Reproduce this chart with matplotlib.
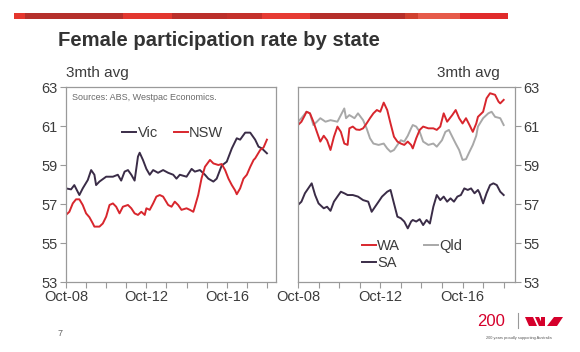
import matplotlib
matplotlib.use("Agg")
import matplotlib.pyplot as plt
import matplotlib.dates as mdates
from matplotlib.patches import Rectangle, Polygon
from matplotlib.lines import Line2D
import pandas as pd

plt.rcParams['font.family'] = ['Liberation Sans', 'DejaVu Sans']

# ---- data (3mth avg, %) ----
vic_dates = ["2008-10", "2009-01", "2009-03", "2009-06", "2009-08", "2009-11", "2010-01", "2010-03",
             "2010-04", "2010-06", "2010-10", "2011-02", "2011-05", "2011-07", "2011-09", "2011-11",
             "2012-01", "2012-03", "2012-05", "2012-06", "2012-08", "2012-10", "2012-12", "2013-02",
             "2013-05", "2013-08", "2013-11", "2014-02", "2014-04", "2014-06", "2014-10", "2015-01",
             "2015-03", "2015-06", "2015-09", "2015-11", "2016-02", "2016-04", "2016-07", "2016-10",
             "2017-01", "2017-04", "2017-06", "2017-09", "2017-12", "2018-03", "2018-05", "2018-07",
             "2018-10"]
vic = [57.8, 57.75, 57.97, 57.46, 57.8, 58.23, 58.74, 58.5,
       57.97, 58.15, 58.4, 58.4, 58.5, 58.2, 58.66, 58.74,
       58.5, 58.2, 59.43, 59.63, 59.25, 58.8, 58.5, 58.74,
       58.6, 58.74, 58.6, 58.5, 58.3, 58.5, 58.4, 58.8,
       58.66, 58.74, 58.5, 58.3, 58.15, 58.3, 58.97, 59.17,
       59.85, 60.37, 60.3, 60.66, 60.66, 60.3, 59.94, 59.85,
       59.6]

nsw_dates = ["2008-10", "2008-12", "2009-02", "2009-04", "2009-06", "2009-08", "2009-10", "2009-12",
             "2010-02", "2010-03", "2010-06", "2010-08", "2010-10", "2010-12", "2011-02", "2011-04",
             "2011-06", "2011-08", "2011-11", "2012-01", "2012-03", "2012-05", "2012-07", "2012-09",
             "2012-10", "2012-12", "2013-02", "2013-04", "2013-06", "2013-08", "2013-11", "2014-01",
             "2014-03", "2014-05", "2014-07", "2014-10", "2014-12", "2015-02", "2015-03", "2015-05",
             "2015-07", "2015-09", "2015-12", "2016-02", "2016-05", "2016-07", "2016-09", "2016-11",
             "2017-01", "2017-03", "2017-04", "2017-06", "2017-08", "2017-10", "2017-12", "2018-02",
             "2018-03", "2018-06", "2018-08", "2018-10"]
nsw = [56.44, 56.6, 57.03, 57.24, 57.24, 56.95, 56.52, 56.32,
       56.0, 55.84, 55.84, 56.0, 56.35, 56.95, 57.03, 56.86,
       56.52, 56.86, 56.95, 56.78, 56.52, 56.44, 56.6, 56.44,
       56.78, 56.7, 57.03, 57.38, 57.46, 57.38, 56.95, 56.86,
       57.12, 56.95, 56.7, 56.78, 56.7, 56.6, 56.86, 57.46,
       58.32, 58.91, 59.26, 59.08, 59.0, 59.05, 58.74, 58.3,
       57.97, 57.7, 57.5, 57.8, 58.3, 58.5, 58.9, 59.26,
       59.34, 59.77, 59.9, 60.3]

wa_dates = ["2008-10", "2008-12", "2009-02", "2009-03", "2009-05", "2009-07", "2009-09", "2009-11",
            "2010-01", "2010-03", "2010-05", "2010-07", "2010-09", "2010-11", "2011-01", "2011-03",
            "2011-04", "2011-06", "2011-08", "2011-10", "2011-12", "2012-02", "2012-04", "2012-06",
            "2012-08", "2012-10", "2012-12", "2013-02", "2013-04", "2013-06", "2013-08", "2013-10",
            "2013-12", "2014-02", "2014-04", "2014-05", "2014-07", "2014-09", "2014-11", "2015-02",
            "2015-05", "2015-07", "2015-09", "2015-11", "2016-01", "2016-04", "2016-06", "2016-08",
            "2016-10", "2016-12", "2017-02", "2017-04", "2017-06", "2017-07", "2017-10", "2017-12",
            "2018-02", "2018-05", "2018-07", "2018-08", "2018-10"]
wa = [61.05, 61.22, 61.56, 61.73, 61.65, 61.22, 60.7, 60.2,
      60.5, 60.27, 59.77, 60.45, 60.97, 60.7, 60.1, 60.03,
      60.88, 60.97, 60.82, 60.8, 60.88, 61.13, 61.4, 61.65,
      61.82, 61.73, 62.2, 61.82, 61.13, 60.45, 60.2, 60.1,
      60.03, 60.2, 60.03, 59.85, 60.37, 60.8, 60.97, 60.88,
      60.88, 60.8, 60.97, 61.65, 61.22, 61.56, 61.82, 61.4,
      61.13, 61.4, 61.05, 60.7, 61.13, 61.47, 61.73, 62.42,
      62.68, 62.6, 62.25, 62.16, 62.34]

qld_dates = ["2008-10", "2008-12", "2009-03", "2009-05", "2009-07", "2009-09", "2009-11", "2010-02",
             "2010-05", "2010-09", "2010-11", "2011-01", "2011-02", "2011-04", "2011-07", "2011-09",
             "2011-12", "2012-02", "2012-04", "2012-06", "2012-09", "2012-12", "2013-02", "2013-04",
             "2013-06", "2013-08", "2013-10", "2013-12", "2014-02", "2014-04", "2014-05", "2014-07",
             "2014-09", "2014-11", "2015-02", "2015-05", "2015-07", "2015-10", "2015-12", "2016-02",
             "2016-04", "2016-06", "2016-08", "2016-10", "2016-12", "2017-02", "2017-04", "2017-06",
             "2017-07", "2017-10", "2018-01", "2018-03", "2018-05", "2018-08", "2018-10"]
qld = [61.22, 61.4, 61.73, 61.65, 61.05, 61.22, 61.4, 61.22,
       61.3, 61.22, 61.56, 61.9, 61.4, 61.56, 61.4, 61.65,
       61.3, 60.88, 60.37, 60.1, 60.03, 60.1, 59.85, 59.68,
       59.77, 60.03, 60.27, 60.2, 60.5, 60.88, 61.05, 60.97,
       60.7, 60.2, 60.03, 60.1, 59.94, 60.27, 60.7, 60.8,
       60.45, 60.1, 59.77, 59.26, 59.3, 59.68, 60.03, 60.5,
       60.97, 61.4, 61.65, 61.73, 61.47, 61.4, 61.05]

sa_dates = ["2008-10", "2008-12", "2009-02", "2009-04", "2009-06", "2009-08", "2009-10", "2010-01",
            "2010-03", "2010-05", "2010-07", "2010-09", "2010-11", "2011-01", "2011-03", "2011-06",
            "2011-09", "2011-12", "2012-03", "2012-05", "2012-07", "2012-09", "2012-11", "2013-02",
            "2013-04", "2013-06", "2013-08", "2013-10", "2013-12", "2014-02", "2014-04", "2014-05",
            "2014-07", "2014-09", "2014-11", "2015-01", "2015-03", "2015-05", "2015-07", "2015-09",
            "2015-11", "2016-01", "2016-03", "2016-05", "2016-07", "2016-09", "2016-11", "2017-01",
            "2017-03", "2017-05", "2017-07", "2017-08", "2017-10", "2017-12", "2018-02", "2018-04",
            "2018-06", "2018-08", "2018-10"]
sa = [56.95, 57.12, 57.55, 57.8, 58.06, 57.46, 57.03, 56.78,
      56.86, 56.65, 57.12, 57.38, 57.63, 57.55, 57.46, 57.46,
      57.38, 57.2, 57.12, 56.6, 56.86, 57.12, 57.38, 57.63,
      57.72, 57.03, 56.35, 56.27, 56.1, 55.75, 56.1, 56.18,
      56.1, 56.22, 55.92, 56.18, 56.0, 56.86, 57.46, 57.2,
      57.38, 57.12, 57.29, 57.12, 57.38, 57.46, 57.8, 57.72,
      57.8, 57.55, 57.72, 57.55, 57.03, 57.55, 57.97, 58.06,
      57.97, 57.63, 57.46]

yticks = [53, 55, 57, 59, 61, 63]

# colours
PURPLE = "#3a2c47"
RED = "#d8262d"
GREY = "#a8a8a8"
TXT = "#3c3c3c"
SPINE = "#9a9a9a"

W, H = 580, 352
fig = plt.figure(figsize=(5.8, 3.52), dpi=100)
fig.patch.set_facecolor("white")


def fx(px):
    return px / W


def fy(py):
    return 1 - py / H


# top decorative red band
band = [(14, 25, "#e4362e"), (25, 123, "#b5302b"), (123, 172, "#e2372f"), (172, 227, "#bb2f2a"),
        (227, 262, "#c4312b"), (262, 310, "#e63b33"), (310, 405, "#b52f2a"), (405, 418, "#d0402f"),
        (418, 460, "#e65a4a"), (460, 508, "#e02b2b")]
for x0, x1, c in band:
    fig.patches.append(Rectangle((fx(x0), fy(19)), fx(x1) - fx(x0), 6 / H,
                                 transform=fig.transFigure, color=c, lw=0))

fig.text(fx(58), fy(41), "Female participation rate by state", fontsize=14.6,
         fontweight="bold", color="#333333", va="center", ha="left")

axL = fig.add_axes([fx(66), fy(282), fx(276) - fx(66), (282 - 87) / H])
axR = fig.add_axes([fx(298), fy(282), fx(515) - fx(298), (282 - 87) / H])

to_dt = pd.to_datetime
lL1, = axL.plot(to_dt(vic_dates), vic, color=PURPLE, lw=1.4)
lL2, = axL.plot(to_dt(nsw_dates), nsw, color=RED, lw=1.4)
lR2, = axR.plot(to_dt(qld_dates), qld, color=GREY, lw=1.4)
lR3, = axR.plot(to_dt(sa_dates), sa, color=PURPLE, lw=1.4)
lR1, = axR.plot(to_dt(wa_dates), wa, color=RED, lw=1.4)

for ax, xend in ((axL, "2019-03-15"), (axR, "2019-04-20")):
    ax.set_xlim(pd.Timestamp("2008-10-01"), pd.Timestamp(xend))
    ax.set_ylim(53, 63)
    ax.set_yticks(yticks)
    ax.xaxis.set_major_locator(mdates.YearLocator(base=4, month=10, day=1))
    ax.xaxis.set_minor_locator(mdates.YearLocator(base=1, month=10, day=1))
    ax.xaxis.set_major_formatter(mdates.DateFormatter("%b-%y"))
    for s in ax.spines.values():
        s.set_color(SPINE)
        s.set_linewidth(0.9)
    ax.tick_params(which="both", direction="out", length=4, width=0.8, color=SPINE,
                   labelsize=10.5, labelcolor=TXT, pad=2)

axR.yaxis.tick_right()

axL.text(0.0, 1.035, "3mth avg", transform=axL.transAxes, fontsize=11, color=TXT,
         ha="left", va="bottom")
axR.text(0.93, 1.035, "3mth avg", transform=axR.transAxes, fontsize=11, color=TXT,
         ha="right", va="bottom")
axL.text(0.03, 0.97, "Sources: ABS, Westpac Economics.", transform=axL.transAxes,
         fontsize=6.5, color="#6a6a6a", ha="left", va="top")

axL.legend([lL1, lL2], ["Vic", "NSW"], ncol=2, frameon=False, fontsize=10.5,
           handlelength=0.95, handletextpad=0.1, columnspacing=1.1,
           loc="center left", bbox_to_anchor=(0.205, 0.765), labelcolor=TXT)
axR.legend([lR1, lR3, lR2], ["WA", "SA", "Qld"], ncol=2, frameon=False, fontsize=10.5,
           handlelength=0.95, handletextpad=0.1, columnspacing=1.6, labelspacing=0.2,
           loc="center left", bbox_to_anchor=(0.235, 0.14), labelcolor=TXT)

# footer: page number and logo
fig.text(fx(58), fy(333), "7", fontsize=6.5, color="#666666", ha="left", va="center")
fig.text(fx(491), fy(321), "200", fontsize=12, color="#d5002b", ha="center", va="center")
fig.add_artist(Line2D([fx(518), fx(518)], [fy(328), fy(313)], transform=fig.transFigure,
                      color="#999999", lw=0.8))
wlogo = [[(525, 317), (533, 317), (537, 326), (529, 326)],
         [(535, 317), (539, 317), (543, 326), (539, 326)],
         [(541, 317), (545, 317), (545, 326), (541, 326)],
         [(554, 317), (563, 317), (557, 326), (547, 326)]]
for poly in wlogo:
    fig.patches.append(Polygon([(fx(x), fy(y)) for x, y in poly], closed=True,
                               transform=fig.transFigure, color="#d5002b", lw=0))
fig.text(fx(519), fy(338), "200 years proudly supporting Australia", fontsize=2.8,
         color="#555555", ha="center", va="center")

fig.savefig("out.png", dpi=100)
